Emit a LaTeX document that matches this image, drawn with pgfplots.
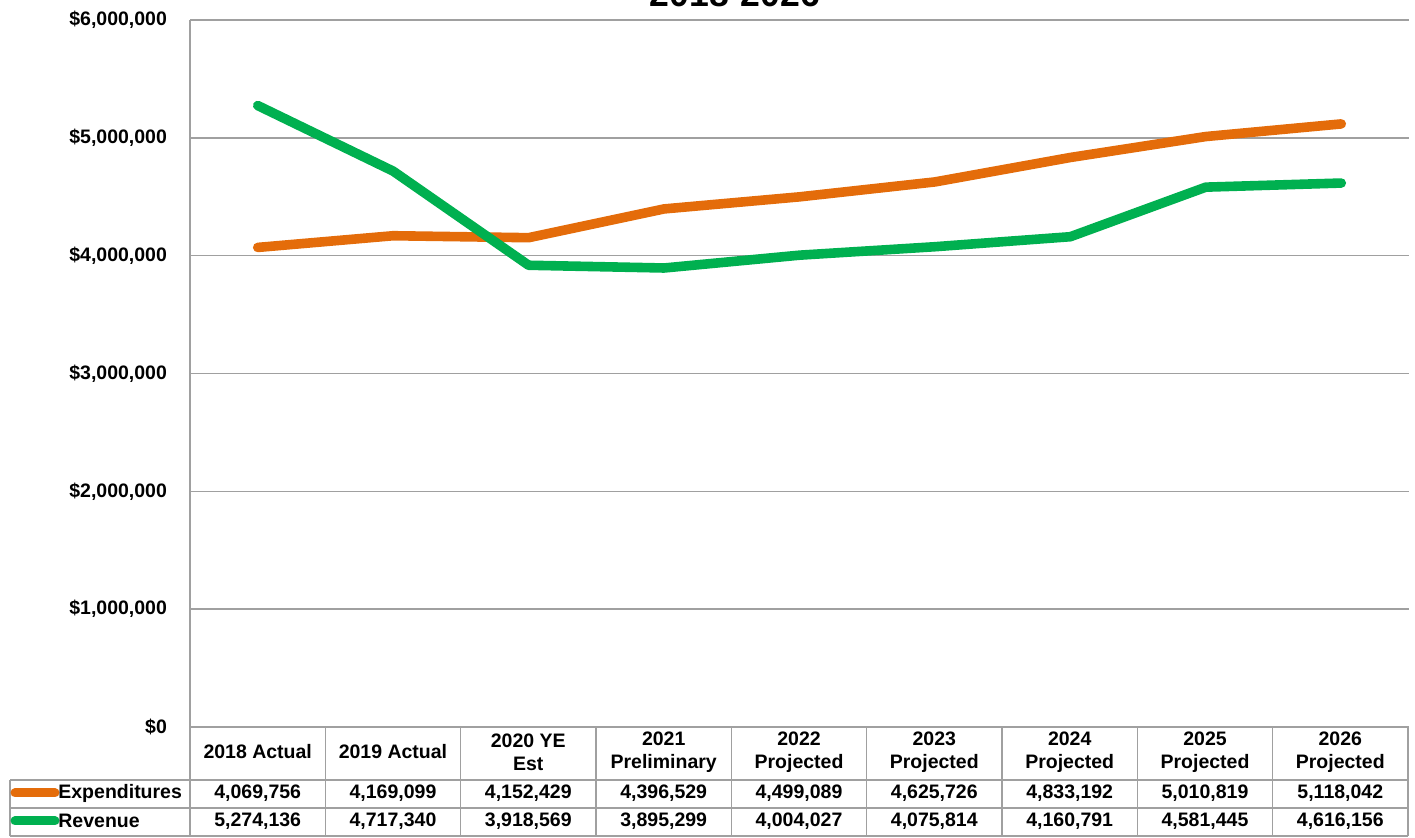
\documentclass[border=0pt]{standalone}
\usepackage{pgfplots}
\pgfplotsset{compat=1.18}
\usepackage{fontspec}
\setmainfont{Liberation Sans}
\definecolor{expc}{HTML}{E46C0A}
\definecolor{revc}{HTML}{00B050}
\definecolor{gridc}{HTML}{A0A0A0}
\begin{document}
\begin{tikzpicture}[font=\fontsize{9.75}{11.5}\selectfont\bfseries]
\begin{axis}[
  at={(95pt,55.5pt)}, anchor=south west,
  scale only axis, width=609.5pt, height=353.5pt,
  xmin=-0.5, xmax=8.5, ymin=0, ymax=6000000,
  axis line style={draw=none},
  xtick=\empty,
  ytick={0,1000000,2000000,3000000,4000000,5000000,6000000},
  yticklabels={{\$0},{\$1,000,000},{\$2,000,000},{\$3,000,000},{\$4,000,000},{\$5,000,000},{\$6,000,000}},
  ymajorgrids, grid style={gridc, line width=0.75pt},
  major tick length=0pt,
  yticklabel style={xshift=-8pt, font=\fontsize{9.75}{11.5}\selectfont\bfseries},
  scaled y ticks=false,
  clip=false,
]
\addplot[expc, line width=4.8pt, line join=round, line cap=round] coordinates {
 (0,4069756) (1,4169099) (2,4152429) (3,4396529) (4,4499089) (5,4625726) (6,4833192) (7,5010819) (8,5118042)};
\addplot[revc, line width=4.8pt, line join=round, line cap=round] coordinates {
 (0,5274136) (1,4717340) (2,3918569) (3,3895299) (4,4004027) (5,4075814) (6,4160791) (7,4581445) (8,4616156)};
\end{axis}
\begin{scope}[shift={(0pt,419pt)}, x=0.5pt, y=-0.5pt]
  \draw[gridc, line width=0.75pt] (190,20)--(190,836);
  \draw[gridc, line width=0.75pt] (10,780)--(1408,780) (10,808)--(1408,808) (10,836)--(1408,836);
  \draw[gridc, line width=0.75pt] (10,780)--(10,836);
  \foreach \xx in {325.3,460.7,596,731.3,866.7,1002,1137.3,1272.7,1408} {
    \draw[gridc, line width=0.75pt] (\xx,727)--(\xx,836);
  }
  \node[anchor=base, font=\fontsize{17.8}{20}\selectfont\bfseries] at (735,7) {2018-2026};
  % header
  \node[align=center] at (257.7,752) {2018 Actual};
  \node[align=center] at (393.0,752) {2019 Actual};
  \node[align=center] at (528.3,752) {2020 YE\\Est};
  \node[align=center] at (663.7,752) {2021\\Preliminary};
  \node[align=center] at (799.0,752) {2022\\Projected};
  \node[align=center] at (934.3,752) {2023\\Projected};
  \node[align=center] at (1069.7,752) {2024\\Projected};
  \node[align=center] at (1205.0,752) {2025\\Projected};
  \node[align=center] at (1340.3,752) {2026\\Projected};
  % legend column
  \draw[expc, line width=4.5pt, line cap=round] (15,793)--(55,793);
  \draw[revc, line width=4.5pt, line cap=round] (15,821)--(55,821);
  \node[anchor=west, inner sep=0pt] at (58,793) {Expenditures};
  \node[anchor=west, inner sep=0pt] at (58,821) {Revenue};
  % values
  \node at (257.7,793) {4,069,756};
  \node at (393.0,793) {4,169,099};
  \node at (528.3,793) {4,152,429};
  \node at (663.7,793) {4,396,529};
  \node at (799.0,793) {4,499,089};
  \node at (934.3,793) {4,625,726};
  \node at (1069.7,793) {4,833,192};
  \node at (1205.0,793) {5,010,819};
  \node at (1340.3,793) {5,118,042};
  \node at (257.7,821) {5,274,136};
  \node at (393.0,821) {4,717,340};
  \node at (528.3,821) {3,918,569};
  \node at (663.7,821) {3,895,299};
  \node at (799.0,821) {4,004,027};
  \node at (934.3,821) {4,075,814};
  \node at (1069.7,821) {4,160,791};
  \node at (1205.0,821) {4,581,445};
  \node at (1340.3,821) {4,616,156};
\end{scope}
\pgfresetboundingbox
\useasboundingbox (0,0) rectangle (707.5pt,419pt);
\end{tikzpicture}
\end{document}
